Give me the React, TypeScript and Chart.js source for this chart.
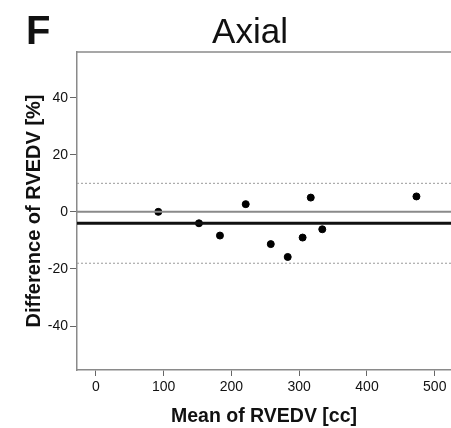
import React, { useEffect, useRef } from "react";
import { Chart, registerables } from "chart.js";
Chart.register(...registerables);

const panelLetter = "F";
const chartTitle = "Axial";
const xTitle = "Mean of RVEDV [cc]";
const yTitle = "Difference of RVEDV [%]";
const meanValues = [92, 152, 183, 221, 258, 283, 305, 317, 334, 473];
const diffValues = [0, -4, -8.3, 2.7, -11.3, -15.8, -9, 5, -6.1, 5.4];
const zeroLine = 0;
const meanDiff = -4;
const upperLoA = 10;
const lowerLoA = -18;
const xTicks = [0, 100, 200, 300, 400, 500];
const yTicks = [-40, -20, 0, 20, 40];
const xMin = -28;
const xMax = 524;
const yMin = -55.4;
const yMax = 56;

const FONT = "'Liberation Sans', Arial, sans-serif";

const hline = (v: number) => [
  { x: xMin, y: v },
  { x: xMax, y: v },
];

const decor = {
  id: "decor",
  afterDraw(chart: any) {
    const { ctx, chartArea } = chart;
    ctx.save();
    ctx.strokeStyle = "#8a8a8a";
    ctx.lineWidth = 1.5;
    ctx.beginPath();
    ctx.moveTo(chartArea.left, chartArea.top);
    ctx.lineTo(chartArea.right, chartArea.top);
    ctx.stroke();
    ctx.fillStyle = "#111";
    ctx.textBaseline = "alphabetic";
    ctx.font = `bold 40px ${FONT}`;
    ctx.textAlign = "left";
    ctx.fillText(panelLetter, 26, 44);
    ctx.font = `35px ${FONT}`;
    ctx.textAlign = "center";
    ctx.fillText(chartTitle, 250, 43);
    ctx.restore();
  },
};

export default function App() {
  const ref = useRef<HTMLCanvasElement>(null);
  useEffect(() => {
    document.body.style.margin = "0";
    const chart = new Chart(ref.current!, {
      type: "scatter",
      data: {
        datasets: [
          {
            type: "line",
            data: hline(upperLoA),
            borderColor: "#9a9a9a",
            borderWidth: 1,
            borderDash: [2, 2],
            pointRadius: 0,
          },
          {
            type: "line",
            data: hline(lowerLoA),
            borderColor: "#9a9a9a",
            borderWidth: 1,
            borderDash: [2, 2],
            pointRadius: 0,
          },
          {
            type: "line",
            data: hline(zeroLine),
            borderColor: "#8a8a8a",
            borderWidth: 2,
            pointRadius: 0,
          },
          {
            type: "line",
            data: hline(meanDiff),
            borderColor: "#111",
            borderWidth: 3,
            pointRadius: 0,
          },
          {
            data: meanValues.map((m, i) => ({ x: m, y: diffValues[i] })),
            backgroundColor: "#000",
            borderColor: "#000",
            pointRadius: 3.5,
            pointHoverRadius: 3.5,
          },
        ] as any,
      },
      plugins: [decor],
      options: {
        animation: false,
        responsive: false,
        layout: { autoPadding: false, padding: { top: 52, left: 0, right: 0, bottom: 0 } },
        plugins: { legend: { display: false }, tooltip: { enabled: false } },
        scales: {
          x: {
            type: "linear",
            min: xMin,
            max: xMax,
            afterBuildTicks: (s: any) => {
              s.ticks = xTicks.map((v) => ({ value: v }));
            },
            afterFit: (s: any) => {
              s.height = 58;
              s.paddingRight = 0;
              s.paddingLeft = 0;
            },
            grid: { drawOnChartArea: false, tickLength: 6, color: "#666" },
            border: { color: "#8a8a8a", width: 1.5 },
            ticks: { color: "#111", font: { family: FONT, size: 14 }, padding: 3 },
            title: {
              display: true,
              text: xTitle,
              color: "#111",
              font: { family: FONT, size: 19.5, weight: "bold" },
              padding: { top: 2, bottom: 0 },
            },
          },
          y: {
            type: "linear",
            min: yMin,
            max: yMax,
            afterBuildTicks: (s: any) => {
              s.ticks = yTicks.map((v) => ({ value: v }));
            },
            afterFit: (s: any) => {
              s.width = 77;
            },
            grid: { drawOnChartArea: false, tickLength: 7, color: "#666" },
            border: { color: "#8a8a8a", width: 1.5 },
            ticks: { color: "#111", font: { family: FONT, size: 14 }, padding: 2 },
            title: {
              display: true,
              text: yTitle,
              color: "#111",
              font: { family: FONT, size: 20, weight: "bold" },
              padding: { top: 22, bottom: 0 },
            },
          },
        },
      } as any,
    });
    return () => chart.destroy();
  }, []);
  return (
    <div style={{ position: "absolute", left: 0, top: 0 }}>
      <canvas ref={ref} width={451} height={428} style={{ width: 451, height: 428, display: "block" }} />
    </div>
  );
}
